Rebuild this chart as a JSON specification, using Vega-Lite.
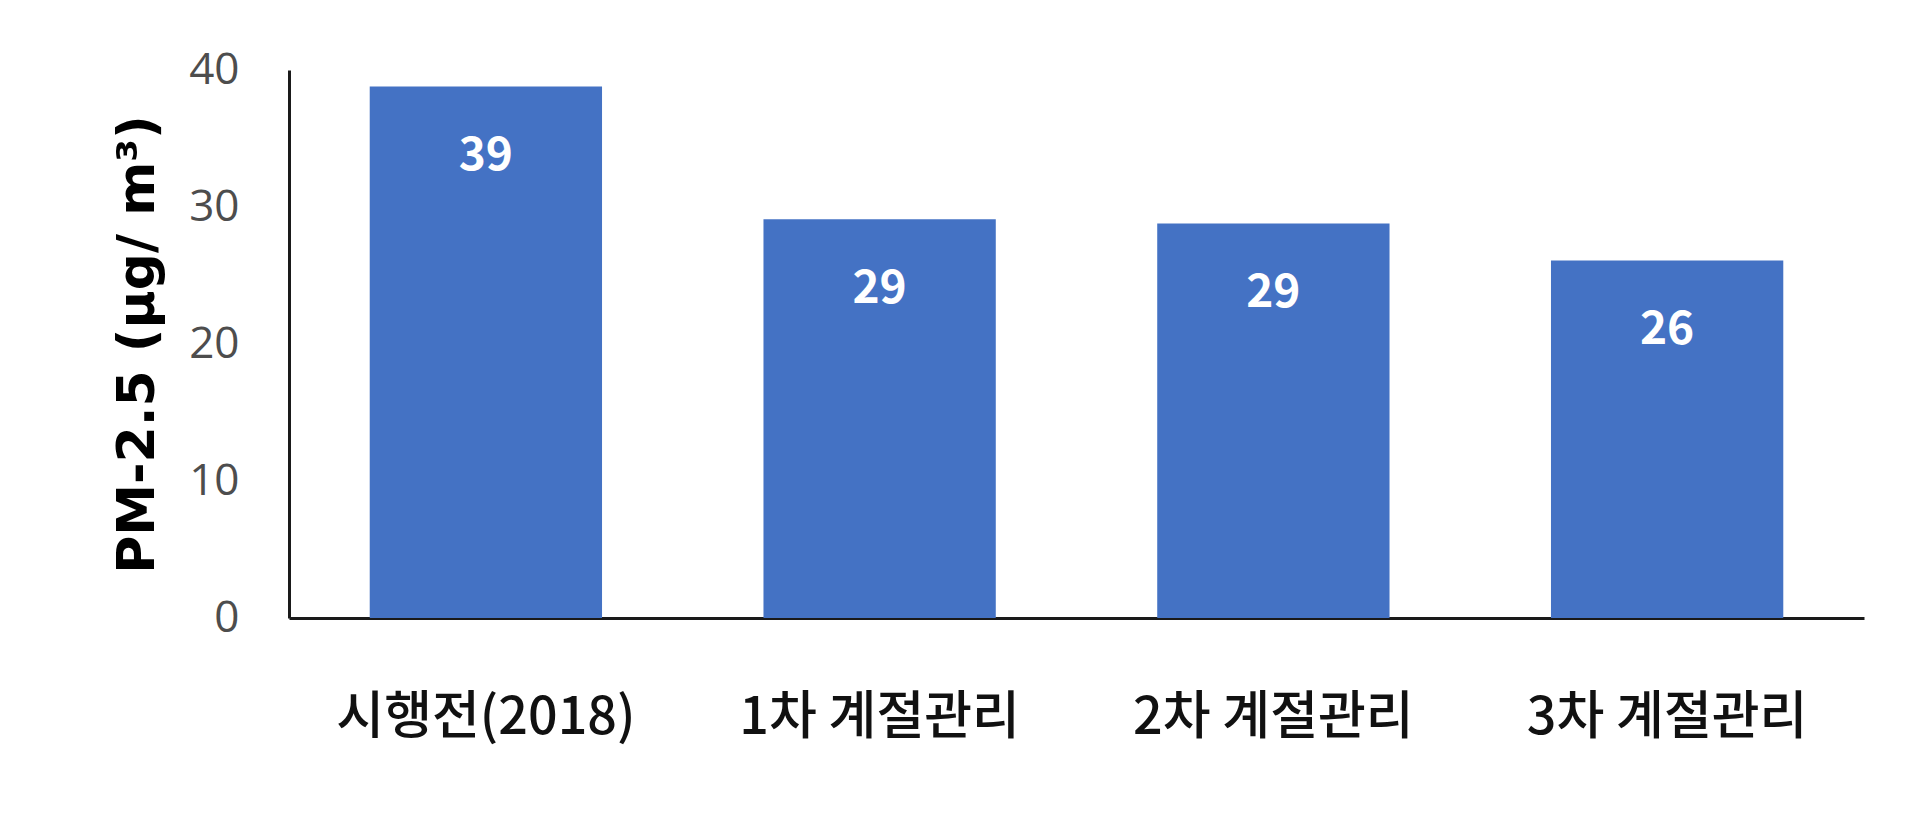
{
  "$schema": "https://vega.github.io/schema/vega-lite/v6.json",
  "autosize": "none",
  "width": 1575,
  "height": 548,
  "padding": {"left": 289, "top": 70, "right": 56, "bottom": 200},
  "background": "white",
  "config": {"view": {"stroke": null}},
  "data": {
    "values": [
      {"period": "시행전(2018)", "pm25": 38.8, "label": "39"},
      {"period": "1차 계절관리", "pm25": 29.1, "label": "29"},
      {"period": "2차 계절관리", "pm25": 28.8, "label": "29"},
      {"period": "3차 계절관리", "pm25": 26.1, "label": "26"}
    ]
  },
  "encoding": {
    "x": {
      "field": "period",
      "type": "nominal",
      "sort": null,
      "scale": {"paddingInner": 0.41, "paddingOuter": 0.205},
      "axis": {
        "title": null,
        "labelAngle": 0,
        "labelLimit": 0,
        "labelFont": "Noto Sans CJK KR",
        "labelFontSize": 52,
        "labelFontWeight": 500,
        "labelColor": "#111111",
        "labelPadding": 74,
        "ticks": false,
        "domainColor": "#1a1a1a",
        "domainWidth": 3
      }
    },
    "y": {
      "field": "pm25",
      "type": "quantitative",
      "scale": {"domain": [0, 40]},
      "axis": {
        "title": "PM-2.5 (µg/ m³)",
        "titleFont": "DejaVu Sans",
        "titleFontWeight": "bold",
        "titleFontSize": 52,
        "titleColor": "#000000",
        "titlePadding": 24,
        "values": [0, 10, 20, 30, 40],
        "labelFont": "Open Sans",
        "labelFontSize": 44,
        "labelColor": "#4d4d4d",
        "labelPadding": 50,
        "ticks": false,
        "grid": false,
        "domainColor": "#1a1a1a",
        "domainWidth": 3
      }
    }
  },
  "layer": [
    {"mark": {"type": "bar", "color": "#4472C4"}},
    {
      "mark": {
        "type": "text",
        "color": "white",
        "font": "Noto Sans CJK KR",
        "fontWeight": "bold",
        "fontSize": 46,
        "baseline": "middle",
        "dy": 70
      },
      "encoding": {"text": {"field": "label"}}
    }
  ]
}
